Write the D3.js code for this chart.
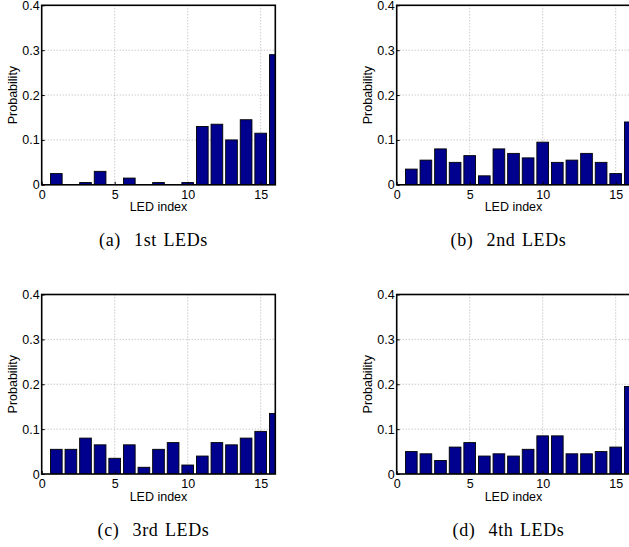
<!DOCTYPE html>
<html>
<head>
<meta charset="utf-8">
<script src="https://cdnjs.cloudflare.com/ajax/libs/d3/7.8.5/d3.min.js"></script>
<style>
body{margin:0;background:#fff;}
.tick text{font-family:"Liberation Sans",Arial,sans-serif;font-size:12.5px;fill:#000;}
</style>
</head>
<body>
<div id="chart"></div>
<script>
// LED index 1..16 and probability per index, one array per subfigure
var ledIndex = [1,2,3,4,5,6,7,8,9,10,11,12,13,14,15,16];
var led1st = [0.025,0,0.005,0.03,0,0.015,0,0.005,0,0.005,0.13,0.135,0.1,0.145,0.115,0.29];
var led2nd = [0.035,0.055,0.08,0.05,0.065,0.02,0.08,0.07,0.06,0.095,0.05,0.055,0.07,0.05,0.025,0.14];
var led3rd = [0.055,0.055,0.08,0.065,0.035,0.065,0.015,0.055,0.07,0.02,0.04,0.07,0.065,0.08,0.095,0.135];
var led4th = [0.05,0.045,0.03,0.06,0.07,0.04,0.045,0.04,0.055,0.085,0.085,0.045,0.045,0.05,0.06,0.195];
var xTicks = [0,5,10,15];
var yTicks = [0,0.1,0.2,0.3,0.4];
var captions = ["(a)  1st LEDs","(b)  2nd LEDs","(c)  3rd LEDs","(d)  4th LEDs"];

var W = 629, H = 547;
var panelW = 233.6, panelH = 179.5;
var barColor = "#00008f";

var svg = d3.select("#chart").append("svg")
    .attr("width", W)
    .attr("height", H);

var x = d3.scaleLinear().domain([0,16]).range([0, panelW]);
var y = d3.scaleLinear().domain([0,0.4]).range([panelH, 0]);

function drawPanel(values, caption, left, top, id){
    var g = svg.append("g")
        .attr("transform", "translate(" + left + "," + top + ")");

    g.append("clipPath").attr("id", "clip" + id)
        .append("rect")
        .attr("width", panelW)
        .attr("height", panelH);

    // grid (dotted)
    g.selectAll(".vgrid").data(xTicks.slice(1))
        .enter().append("line")
        .attr("x1", function(d){ return x(d); })
        .attr("x2", function(d){ return x(d); })
        .attr("y1", 0).attr("y2", panelH)
        .attr("stroke", "#a0a0a0")
        .attr("stroke-width", 0.8)
        .attr("stroke-dasharray", "1,2");
    g.selectAll(".hgrid").data(yTicks.slice(1, -1))
        .enter().append("line")
        .attr("x1", 0).attr("x2", panelW)
        .attr("y1", function(d){ return y(d); })
        .attr("y2", function(d){ return y(d); })
        .attr("stroke", "#a0a0a0")
        .attr("stroke-width", 0.8)
        .attr("stroke-dasharray", "1,2");

    // bars
    g.append("g").attr("clip-path", "url(#clip" + id + ")")
        .selectAll("rect").data(values)
        .enter().append("rect")
        .attr("x", function(d, i){ return x(ledIndex[i] - 0.4); })
        .attr("width", x(0.8) - x(0))
        .attr("y", function(d){ return y(d); })
        .attr("height", function(d){ return y(0) - y(d); })
        .attr("fill", barColor)
        .attr("stroke", "#000")
        .attr("stroke-width", 0.9);

    // axes, ticks pointing inward
    var yAxis = g.append("g")
        .call(d3.axisLeft(y).tickValues(yTicks).tickSize(-3).tickPadding(2)
            .tickFormat(function(d){ return d === 0 ? "0" : d3.format(".1f")(d); }));
    var xAxis = g.append("g")
        .attr("transform", "translate(0," + panelH + ")")
        .call(d3.axisBottom(x).tickValues(xTicks).tickSize(-3).tickPadding(5.5));
    yAxis.select(".domain").remove();
    xAxis.select(".domain").remove();
    g.selectAll(".tick line").attr("stroke", "#000");

    // box
    g.append("rect")
        .attr("width", panelW)
        .attr("height", panelH)
        .attr("fill", "none")
        .attr("stroke", "#000")
        .attr("stroke-width", 1.6);

    g.append("text")
        .attr("transform", "translate(-29.4," + (panelH/2) + ") rotate(-90)")
        .attr("text-anchor", "middle")
        .attr("dy", "0.35em")
        .style("font-family", "'Liberation Sans',Arial,sans-serif")
        .style("font-size", "12.5px")
        .text("Probability");

    g.append("text")
        .attr("x", panelW/2)
        .attr("y", panelH + 26.5)
        .attr("text-anchor", "middle")
        .style("font-family", "'Liberation Sans',Arial,sans-serif")
        .style("font-size", "12.5px")
        .text("LED index");

    g.append("text")
        .attr("x", panelW/2 - 5)
        .attr("y", panelH + 61.5)
        .attr("text-anchor", "middle")
        .style("font-family", "'Liberation Serif','Times New Roman',serif")
        .style("font-size", "18px")
        .style("letter-spacing", "0.6px")
        .style("word-spacing", "1.5px")
        .style("white-space", "pre")
        .text(caption);
}

drawPanel(led1st, captions[0], 41.7, 5.3, 1);
drawPanel(led2nd, captions[1], 396.7, 5.3, 2);
drawPanel(led3rd, captions[2], 41.7, 294.5, 3);
drawPanel(led4th, captions[3], 396.7, 294.5, 4);
</script>
</body>
</html>
